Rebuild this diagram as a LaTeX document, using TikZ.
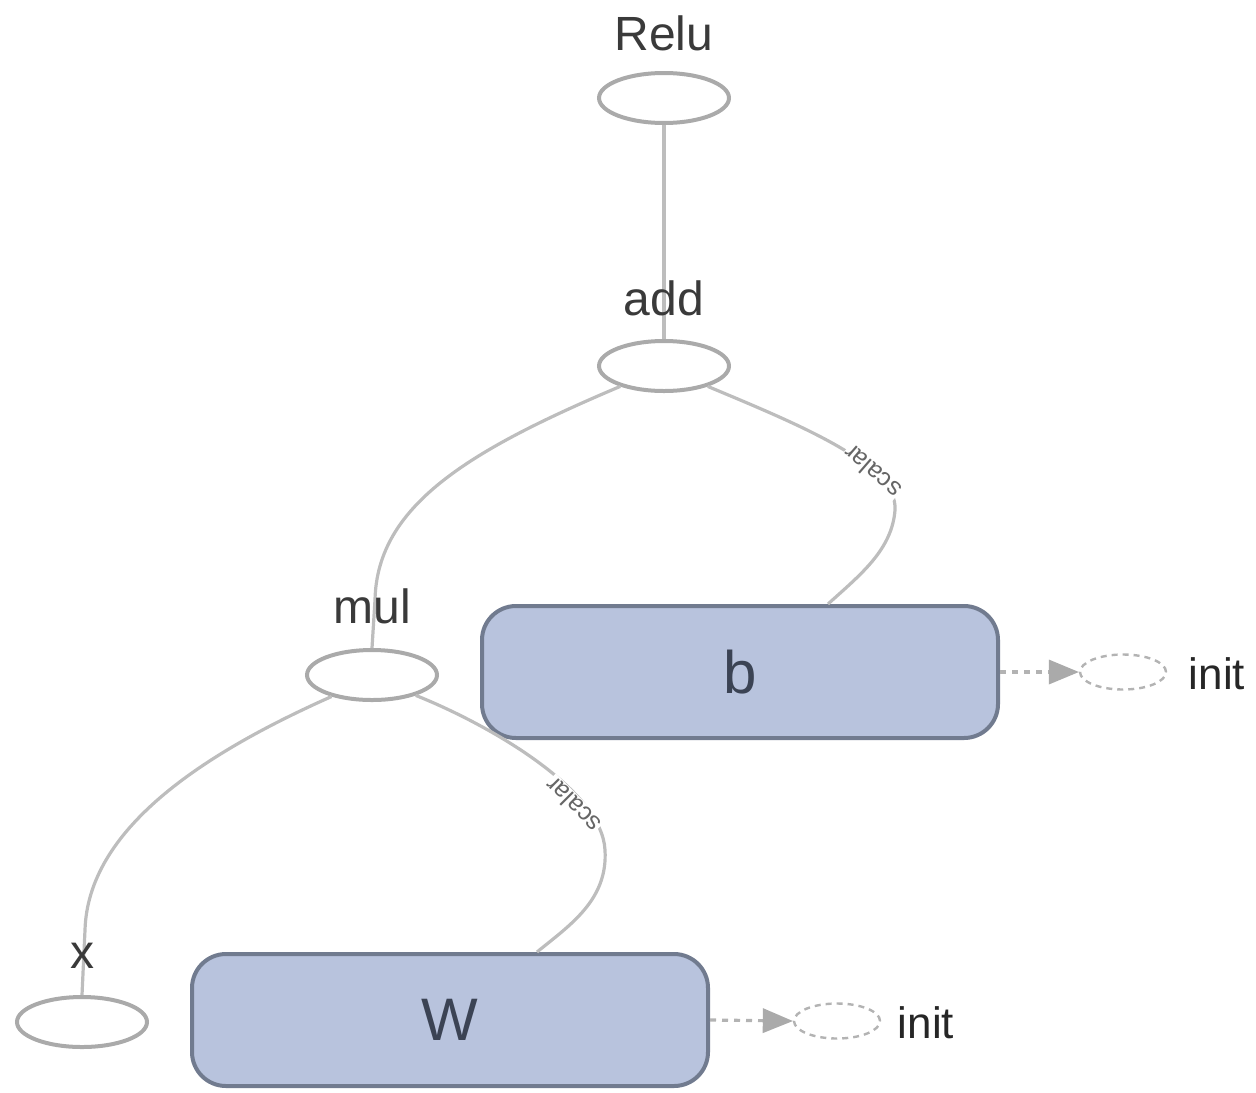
\documentclass[tikz,border=0pt]{standalone}
\usepackage{fontspec}
\setmainfont{Liberation Sans}
\usetikzlibrary{shapes.geometric,arrows.meta}
\definecolor{opline}{HTML}{AAAAAA}
\definecolor{edgeline}{HTML}{BDBDBD}
\definecolor{varfill}{HTML}{B8C3DD}
\definecolor{varline}{HTML}{717B8F}
\definecolor{labeltext}{HTML}{3A3A3A}
\definecolor{vartext}{HTML}{3B4354}
\definecolor{initline}{HTML}{B3B3B3}
\begin{document}
\begin{tikzpicture}[x=0.5pt,y=-0.5pt,
  opnode/.style={ellipse,draw=opline,line width=2pt,minimum width=65pt,minimum height=25pt,inner sep=0pt},
  oplabel/.style={text=labeltext,font=\fontsize{24}{28}\selectfont,inner sep=0pt},
  varbox/.style={rectangle,rounded corners=17pt,draw=varline,fill=varfill,line width=2pt,
    minimum width=258pt,minimum height=66pt,inner sep=0pt,text=vartext,font=\fontsize{30}{34}\selectfont},
  dataedge/.style={draw=edgeline,line width=1.6pt},
  edgelabel/.style={text=black!60,fill=white,font=\fontsize{12.5}{13}\selectfont,inner sep=0.5pt},
  initnode/.style={ellipse,draw=initline,dashed,dash pattern=on 3pt off 2.5pt,line width=1.2pt,
    minimum width=43pt,minimum height=17.5pt,inner sep=0pt},
  initedge/.style={draw=initline,line width=1.6pt,dash pattern=on 3pt off 3pt,
    -{Triangle[width=12.5pt,length=15pt,color=opline,line width=0pt]}},
  inittext/.style={text=black!85,font=\fontsize{22}{26}\selectfont,inner sep=0pt}]
\useasboundingbox (0,0) rectangle (1256,1092);

% operation nodes
\node[opnode] (relu) at (664,98) {};
\node[opnode] (add) at (664,366) {};
\node[opnode] (mul) at (372,675) {};
\node[opnode] (x) at (82,1022) {};

% variable boxes
\node[varbox] (b) at (740,672) {b};
\node[varbox] (w) at (450,1020) {W};

% initializers
\node[initnode] (binit) at (1123,672) {};
\node[initnode] (winit) at (837,1021) {};
\node[inittext] (binitlbl) at (1217,674) {init};
\node[inittext] (winitlbl) at (926,1023) {init};

% data edges
\draw[dataedge] (relu.south) -- (add.north);
\draw[dataedge] (add.205) .. controls (470,450) and (377,505) .. (375,600) -- (mul.north);
\draw[dataedge] (add.335) .. controls (800,425) and (898,465) .. (895,510)
  .. controls (892,550) and (860,575) .. ([xshift=44pt]b.north);
\draw[dataedge] (mul.335) .. controls (490,725) and (602,790) .. (605,850)
  .. controls (608,900) and (570,925) .. ([xshift=43.5pt]w.north);
\draw[dataedge] (mul.208) .. controls (200,755) and (88,830) .. (85,930) -- (x.north);

% edge labels
\node[edgelabel,rotate=139] (lblb) at (872,472) {scalar};
\node[edgelabel,rotate=135] (lblw) at (573,805) {scalar};

% operation labels
\node[oplabel] (relulbl) at (664,33) {Relu};
\node[oplabel] (addlbl) at (664,298) {add};
\node[oplabel] (mullbl) at (372,606) {mul};
\node[oplabel] (xlbl) at (82,956) {x};

% initializer edges
\draw[initedge] (b.east) -- (binit.west);
\draw[initedge] (w.east) -- (winit.west);
\end{tikzpicture}
\end{document}
